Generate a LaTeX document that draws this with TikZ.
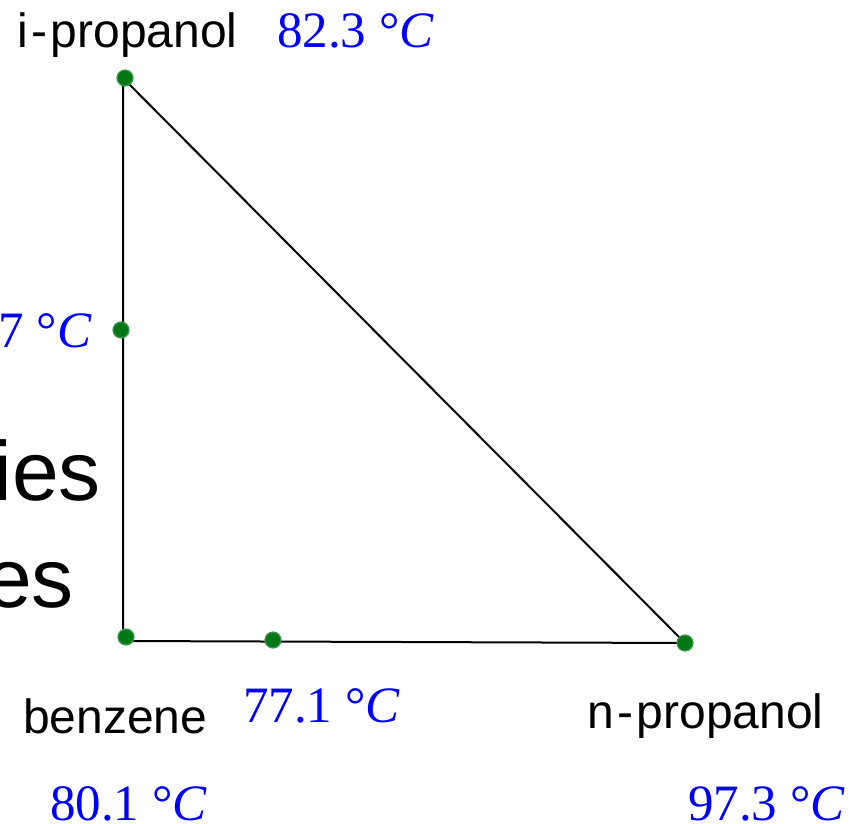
\documentclass[tikz,border=0pt]{standalone}
\usepackage{fontspec}
\setmainfont{Liberation Serif}
\newfontfamily\labfont{Liberation Sans}
\definecolor{dotfill}{RGB}{0,120,20}
\definecolor{dotedge}{RGB}{60,150,80}
\definecolor{tempblue}{RGB}{0,0,255}
\begin{document}
\begin{tikzpicture}[x=1pt,y=-1pt,
  edgeline/.style={line width=2pt,black},
  gdot/.style={circle,fill=dotfill,draw=dotedge,line width=1.2pt,minimum size=16pt,inner sep=0pt},
  labtxt/.style={inner sep=0pt,font=\labfont\fontsize{48}{52}\selectfont},
  bigtxt/.style={inner sep=0pt,font=\labfont\fontsize{84}{90}\selectfont},
  temptxt/.style={inner sep=0pt,text=tempblue,font=\fontsize{51}{55}\selectfont}]
\useasboundingbox (0,0) rectangle (863,823);
% corners of the triangle
\coordinate (I) at (123,78);
\coordinate (B) at (123,641);
\coordinate (N) at (685,643);
\draw[edgeline] (I) -- (B) -- (N) -- (I);
% dots
\node[gdot] (dI) at (125,78) {};
\node[gdot] (dM) at (121,330) {};
\node[gdot] (dB) at (126,637) {};
\node[gdot] (dE) at (273,640) {};
\node[gdot] (dN) at (685,643) {};
% black names
\node[labtxt,anchor=base west] (tI) at (17,47) {i\kern4pt-\kern3pt propanol};
\node[labtxt,anchor=base west] (tB) at (23,733) {benzene};
\node[labtxt,anchor=base west] (tN) at (587,728) {n\kern4pt-\kern3pt propanol};
\node[bigtxt,anchor=base east] (tIes) at (101,500) {ies};
\node[bigtxt,anchor=base east] (tEs) at (74,607) {es};
% temperatures
\node[temptxt,anchor=base west] (cI) at (277,47) {82.3 °\textit{C}};
\node[temptxt,anchor=base east] (cM) at (92,347) {7 °\textit{C}};
\node[temptxt,anchor=base west] (cE) at (243,722) {77.1 °\textit{C}};
\node[temptxt,anchor=base west] (cB) at (50,820) {80.1 °\textit{C}};
\node[temptxt,anchor=base west] (cN) at (688,820) {97.3 °\textit{C}};
\end{tikzpicture}
\end{document}
